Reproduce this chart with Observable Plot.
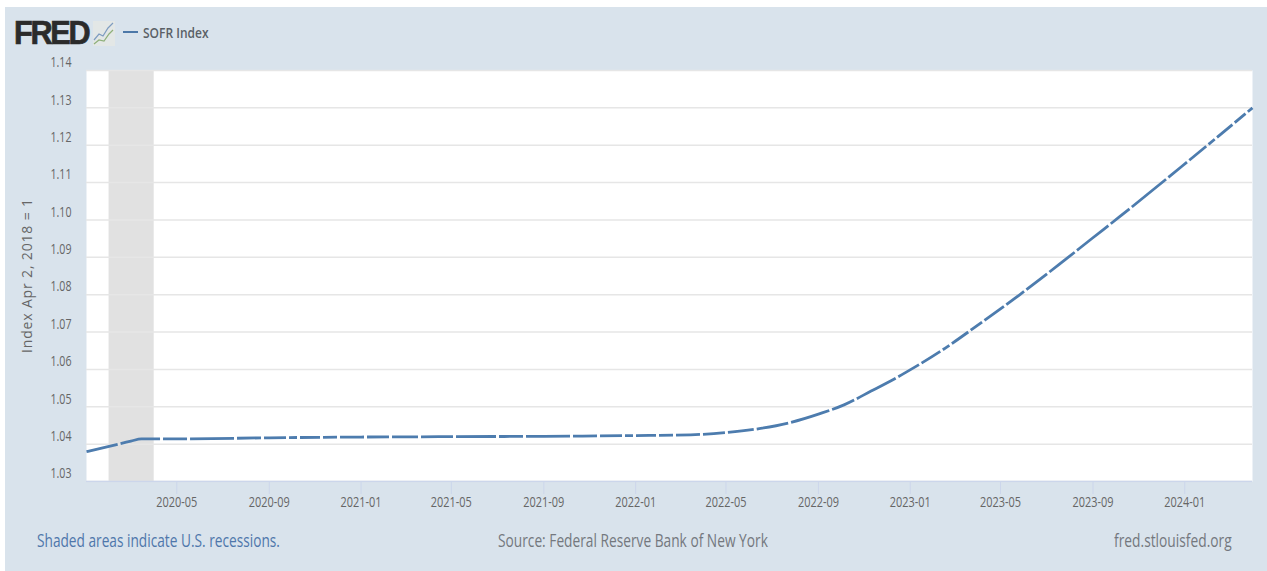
<!DOCTYPE html>
<html><head><meta charset="utf-8">
<script src="https://cdn.jsdelivr.net/npm/d3@7"></script>
<script src="https://cdn.jsdelivr.net/npm/@observablehq/plot@0.6"></script>
<style>
html,body{margin:0;padding:0;background:#fff;overflow:hidden}
#page{position:absolute;left:5px;top:7px;width:1262px;height:564px;background:#d9e3ec}
#chart{position:absolute;left:0;top:0}
.t{position:absolute;white-space:nowrap;font-family:"Open Sans",sans-serif;transform-origin:left center}
</style></head><body>
<div id="page"></div><div id="chart"></div>
<div class="t" style="left:14px;top:15px;font:900 33px/36px 'Liberation Sans',sans-serif;letter-spacing:-2.5px;color:#2b2b2b;-webkit-text-stroke:.7px #2b2b2b;transform:scaleX(.93)">FRED</div>
<svg class="t" style="left:93px;top:21px" width="22" height="25"><rect width="22" height="25" fill="#e3e7e6"/><polyline points="1,19 6,13 10,15 15,7 20,2" fill="none" stroke="#7e9cc0" stroke-width="1.2"/><polyline points="1,23 6,19 11,20 16,13 20,9" fill="none" stroke="#8fb07a" stroke-width="1.2"/></svg>
<div class="t" style="left:123px;top:31px;width:15px;height:2px;background:#4c78a8"></div>
<div class="t" style="left:143px;top:22px;font-size:15px;line-height:20px;font-weight:600;color:#5a5f66;transform:scaleX(.8)">SOFR Index</div>
<div class="t" style="left:37px;top:529px;font-size:18px;line-height:22px;color:#4f77ab;transform:scaleX(.76)">Shaded areas indicate U.S. recessions.</div>
<div class="t" style="left:498px;top:529px;font-size:18px;line-height:22px;color:#74787e;transform:scaleX(.763)">Source: Federal Reserve Bank of New York</div>
<div class="t" style="right:35px;top:529px;font-size:18px;line-height:22px;color:#74787e;transform-origin:right center;transform:scaleX(.765)">fred.stlouisfed.org</div>
<script>
const dates = ["2020-01-02","2020-02-01","2020-03-01","2020-03-15","2020-05-01","2020-09-01","2021-01-01","2021-05-01","2021-09-01","2022-01-01","2022-03-15","2022-05-02","2022-06-16","2022-07-26","2022-09-02","2022-10-05","2022-11-10","2022-12-21","2023-01-02","2023-02-12","2023-04-06","2023-05-26","2023-07-18","2023-08-31","2023-10-06","2023-12-29","2024-03-31"];
const values = [1.0380,1.0394,1.0408,1.0414,1.0414,1.0417,1.0419,1.0420,1.0421,1.0423,1.0425,1.0431,1.0442,1.0458,1.0481,1.0505,1.0542,1.0586,1.0600,1.0651,1.0726,1.0799,1.0881,1.0951,1.1008,1.1145,1.1300];
const recessionStart = ["2020-02-01"], recessionEnd = ["2020-04-01"];
const yTicks = [1.03,1.04,1.05,1.06,1.07,1.08,1.09,1.10,1.11,1.12,1.13,1.14];
const xTicks = ["2020-05-01","2020-09-01","2021-01-01","2021-05-01","2021-09-01","2022-01-01","2022-05-01","2022-09-01","2023-01-01","2023-05-01","2023-09-01","2024-01-01"];
const yLabel = "Index Apr 2, 2018 = 1";
const toDate = s => new Date(s + "T00:00:00Z");
const series = dates.map((d,i)=>({date:toDate(d), value:values[i]}));
const rec = recessionStart.map((d,i)=>({x1:toDate(d), x2:toDate(recessionEnd[i])}));
const chart = Plot.plot({
  width:1267, height:571, marginLeft:86, marginRight:15, marginTop:70, marginBottom:90,
  style:{background:"transparent", fontFamily:"'Open Sans',sans-serif"},
  x:{type:"utc", domain:[toDate("2020-01-02"),toDate("2024-03-31")]},
  y:{domain:[1.03,1.14]},
  marks:[
    Plot.frame({fill:"#fff", stroke:null}),
    Plot.rectY(rec,{x1:"x1",x2:"x2",y1:1.03,y2:1.14,fill:"#e1e1e1"}),
    Plot.ruleY(yTicks,{stroke:"#e6e6e6",strokeWidth:1.5}),
    Plot.ruleY([1.03],{stroke:"#ccd6eb",strokeWidth:1.5}),
    Plot.axisY({ticks:yTicks,tickSize:0,tickPadding:15,dy:-8,tickFormat:d3.format(".2f"),fontSize:15,color:"#666",
      label:yLabel,labelAnchor:"center",labelArrow:"none",labelOffset:64}),
    Plot.axisX({ticks:xTicks.map(toDate),tickSize:13,tickPadding:2,stroke:"#ccd6eb",tickFormat:d3.utcFormat("%Y-%m"),fontSize:15,color:"#666",label:null}),
    Plot.line(series,{x:"date",y:"value",stroke:"#4d7cae",strokeWidth:2.8,curve:"monotone-x",strokeLinecap:"butt",
      strokeDasharray:"32 3 40 3 24 3 44 3 24 3 22 3 8 3 20 3 14 3 24 3 22 3 26 3"})
  ]
});
document.getElementById("chart").appendChild(chart);
const fit = (sel, len) => chart.querySelectorAll(sel).forEach(n => {n.setAttribute("textLength", len); n.setAttribute("lengthAdjust","spacingAndGlyphs");});
fit('[aria-label="x-axis tick label"] text', 41);
fit('[aria-label="y-axis tick label"] text', 21);
chart.querySelectorAll('[aria-label="y-axis label"] text').forEach(n => {n.setAttribute("textLength",154); n.setAttribute("lengthAdjust","spacing"); n.style.fontSize="14px"; n.setAttribute("fill","#666");});
</script></body></html>
